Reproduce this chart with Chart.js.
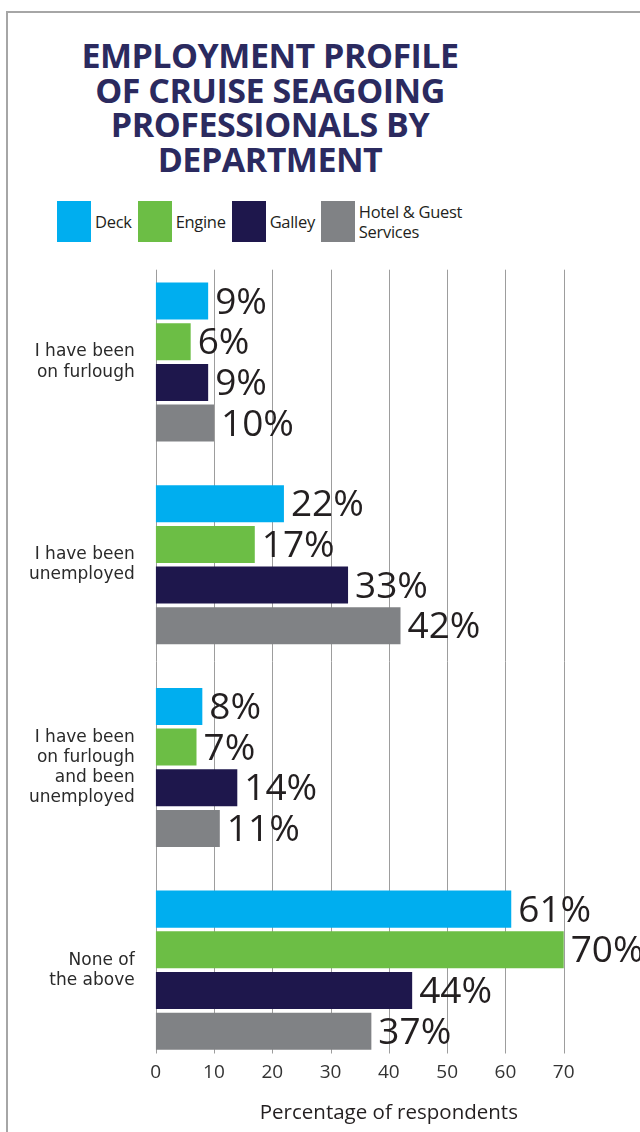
<!DOCTYPE html>
<html>
<head>
<meta charset="utf-8">
<script src="https://cdn.jsdelivr.net/npm/chart.js@4/dist/chart.umd.min.js"></script>
<style>
  body { margin: 0; background: #fff; overflow: hidden; }
  #page { position: relative; width: 640px; height: 1132px; }
  #frame { position: absolute; left: 6px; top: 11px; right: -10px; bottom: -10px;
           border-left: 2px solid #a6a6a6; border-top: 2px solid #a6a6a6; }
  #title { position: absolute; top: 38px; left: 0; width: 540px; text-align: center;
           font: bold 34px "Open Sans", sans-serif; line-height: 34.5px; color: #2b2a5f;
           letter-spacing: -0.5px; }
  #legend { position: absolute; top: 201px; left: 57px; display: flex; align-items: center;
            font: 16.5px "Open Sans", sans-serif; line-height: 20px; color: #231f20;
            letter-spacing: -0.3px; }
  #legend .item { display: flex; align-items: center; margin-right: 6px; }
  #legend .box { width: 34px; height: 41px; margin-right: 4px; }
  canvas { position: absolute; left: 0; top: 0; }
</style>
</head>
<body>
<div id="page">
  <div id="frame"></div>
  <div id="title">EMPLOYMENT PROFILE<br>OF CRUISE SEAGOING<br>PROFESSIONALS BY<br>DEPARTMENT</div>
  <div id="legend"></div>
  <canvas id="deptChart" width="640" height="1132"></canvas>
</div>
<script>
// Antworten
let categories = [
    ["I have been", "on furlough"],
    ["I have been", "unemployed"],
    ["I have been", "on furlough", "and been", "unemployed"],
    ["None of", "the above"]
];

// Prozent je Abteilung
let deck   = [9, 22, 8, 61];
let engine = [6, 17, 7, 70];
let galley = [9, 33, 14, 44];
let hotel  = [10, 42, 11, 37];

let seriesNames  = ["Deck", "Engine", "Galley", "Hotel & Guest<br>Services"];
let seriesColors = ['#00aeef', '#6cbe45', '#1e174c', '#808285'];

let xTicks = [0, 10, 20, 30, 40, 50, 60, 70];

// Legende als HTML
let legend = document.getElementById('legend');
seriesNames.forEach(function (name, i) {
    let item = document.createElement('div');
    item.className = 'item';
    item.innerHTML = '<div class="box" style="background:' + seriesColors[i] + '"></div><div>' + name + '</div>';
    legend.appendChild(item);
});

// vertikale Gitterlinien, etwas kuerzer als die Zeichenflaeche
let gridPlugin = {
    id: 'shortGrid',
    beforeDatasetsDraw(chart) {
        let ctx = chart.ctx, x = chart.scales.x, area = chart.chartArea;
        ctx.save();
        ctx.strokeStyle = '#9d9d9d';
        ctx.lineWidth = 1;
        xTicks.forEach(function (v) {
            let px = Math.round(x.getPixelForValue(v)) + 0.5;
            ctx.beginPath();
            ctx.moveTo(px, area.top + 9);
            ctx.lineTo(px, area.bottom - 18);
            ctx.stroke();
        });
        ctx.restore();
    }
};

// Prozentwerte hinter den Balken
let valuePlugin = {
    id: 'valueLabels',
    afterDatasetsDraw(chart) {
        let ctx = chart.ctx;
        ctx.save();
        ctx.font = '37px "Open Sans", sans-serif';
        ctx.fillStyle = '#231f20';
        ctx.textAlign = 'left';
        ctx.textBaseline = 'middle';
        chart.data.datasets.forEach(function (ds, i) {
            chart.getDatasetMeta(i).data.forEach(function (bar, j) {
                ctx.fillText(ds.data[j] + '%', bar.x + 7, bar.y + 2);
            });
        });
        ctx.restore();
    }
};

let makeSet = function (label, data, color) {
    return {
        label: label,
        data: data,
        backgroundColor: color,
        borderWidth: 0,
        categoryPercentage: 0.803,
        barPercentage: 0.91
    };
};

let dept_c = document.getElementById('deptChart');
let dept_chart = new Chart(dept_c, {
    type: 'bar',
    data: {
        labels: categories,
        datasets: [
            makeSet("Deck", deck, seriesColors[0]),
            makeSet("Engine", engine, seriesColors[1]),
            makeSet("Galley", galley, seriesColors[2]),
            makeSet("Hotel & Guest Services", hotel, seriesColors[3])
        ]
    },
    options: {
        indexAxis: 'y',
        responsive: false,
        animation: false,
        layout: { padding: { top: 260.7, left: 0, right: 18, bottom: 7 } },
        plugins: {
            legend: { display: false },
            tooltip: { enabled: false }
        },
        scales: {
            x: {
                min: 0,
                max: 80,
                grid: { display: false, drawTicks: false },
                border: { display: false },
                ticks: {
                    stepSize: 10,
                    mirror: true,
                    padding: -12.9,
                    color: '#333',
                    font: { family: '"Open Sans", sans-serif', size: 19 },
                    callback: function (v) { return v <= 70 ? v : ''; }
                },
                title: {
                    display: true,
                    text: 'Percentage of respondents',
                    color: '#231f20',
                    font: { family: '"Open Sans", sans-serif', size: 20.5 },
                    padding: { top: 0, bottom: 0 }
                },
                afterFit: function (scale) { scale.height = 53.5; }
            },
            y: {
                grid: { display: false, drawTicks: false },
                border: { display: false },
                ticks: {
                    padding: 21,
                    color: '#2a2a2a',
                    font: { family: '"DejaVu Sans", sans-serif', size: 17, lineHeight: 1.18 }
                },
                afterFit: function (scale) { scale.width = 155.7; }
            }
        }
    },
    plugins: [gridPlugin, valuePlugin]
});
</script>
</body>
</html>
